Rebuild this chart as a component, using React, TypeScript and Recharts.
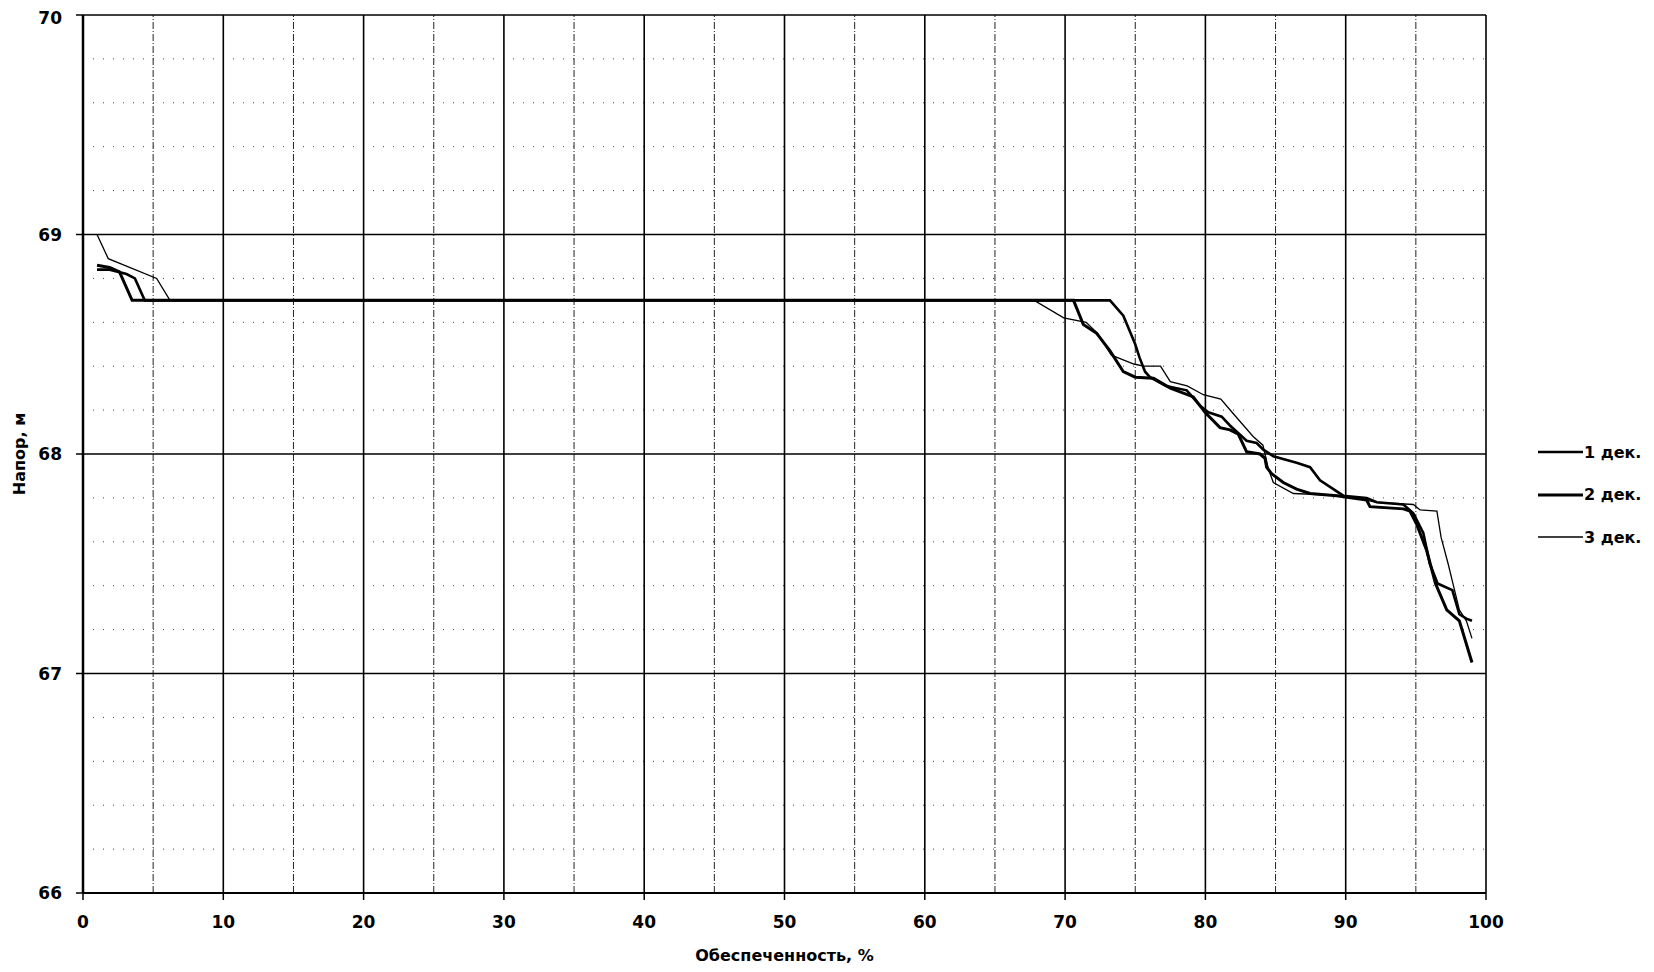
import React from 'react';
import { LineChart, Line, XAxis, YAxis, ReferenceLine, Legend, Label } from 'recharts';

const FONT = '"DejaVu Sans", Verdana, sans-serif';

const xTicks = [0, 10, 20, 30, 40, 50, 60, 70, 80, 90, 100];
const yTicks = [66, 67, 68, 69, 70];
const xMajorGrid = [10, 20, 30, 40, 50, 60, 70, 80, 90, 100];
const xMinorGrid = [5, 15, 25, 35, 45, 55, 65, 75, 85, 95];
const yMajorGrid = [67, 68, 69, 70];
const yMinorGrid = [
  66.2, 66.4, 66.6, 66.8, 67.2, 67.4, 67.6, 67.8,
  68.2, 68.4, 68.6, 68.8, 69.2, 69.4, 69.6, 69.8,
];

const seriesNames = ['1 дек.', '2 дек.', '3 дек.'];

const dek1X = [1, 1.9, 3.1, 3.7, 4.4, 73.2, 74.15, 75.0, 75.3, 75.7, 76.05, 77.2, 78.67, 79.62, 80.21, 81.16, 81.75, 82.94, 83.65, 84.13, 84.84, 86.5, 87.46, 88.17, 89.12, 89.83, 91.49, 92.21, 94.11, 94.82, 95.53, 96.0, 96.55, 96.9, 97.6, 98.1, 98.6, 99.0];
const dek1Y = [68.84, 68.84, 68.82, 68.80, 68.70, 68.70, 68.63, 68.50, 68.44, 68.375, 68.35, 68.31, 68.29, 68.22, 68.19, 68.17, 68.13, 68.06, 68.05, 68.02, 67.99, 67.96, 67.94, 67.88, 67.84, 67.81, 67.80, 67.78, 67.77, 67.73, 67.64, 67.50, 67.41, 67.40, 67.38, 67.27, 67.25, 67.24];

const dek2X = [1, 1.9, 2.6, 3.5, 70.6, 71.3, 72.25, 73.2, 73.8, 74.15, 75.0, 76.3, 77.5, 79.14, 79.97, 81.04, 81.75, 82.35, 82.94, 83.89, 84.25, 84.36, 84.72, 85.55, 86.5, 87.46, 89.36, 91.49, 91.73, 94.11, 94.58, 95.06, 95.77, 96.4, 97.2, 98.1, 99.0];
const dek2Y = [68.86, 68.85, 68.83, 68.70, 68.70, 68.59, 68.55, 68.47, 68.41, 68.375, 68.35, 68.345, 68.30, 68.26, 68.19, 68.12, 68.11, 68.09, 68.01, 68.00, 67.98, 67.94, 67.91, 67.87, 67.84, 67.82, 67.81, 67.79, 67.76, 67.75, 67.74, 67.68, 67.56, 67.41, 67.29, 67.24, 67.05];

const dek3X = [1, 1.8, 5.25, 6.2, 67.8, 69.9, 71.5, 72.3, 73.3, 74.9, 75.6, 76.8, 77.5, 78.7, 79.85, 81.1, 81.9, 83.4, 84.1, 84.5, 84.84, 86.27, 89.83, 92.21, 94.82, 95.3, 96.5, 96.8, 97.3, 98.1, 98.6, 99.0];
const dek3Y = [69.00, 68.89, 68.80, 68.70, 68.70, 68.62, 68.60, 68.55, 68.45, 68.41, 68.40, 68.40, 68.33, 68.31, 68.27, 68.25, 68.19, 68.08, 68.04, 67.93, 67.87, 67.82, 67.81, 67.78, 67.77, 67.745, 67.74, 67.62, 67.50, 67.29, 67.24, 67.16];

const toPoints = (xs: number[], ys: number[]) => xs.map((x, i) => ({ x, y: ys[i] }));

const series = [
  { name: seriesNames[0], data: toPoints(dek1X, dek1Y), width: 2.6 },
  { name: seriesNames[1], data: toPoints(dek2X, dek2Y), width: 3 },
  { name: seriesNames[2], data: toPoints(dek3X, dek3Y), width: 1.3 },
];

const widthByName: Record<string, number> = {};
series.forEach((s) => { widthByName[s.name] = s.width; });

const renderLegend = (props: any) => {
  const payload = props.payload || [];
  return (
    <div style={{ display: 'flex', flexDirection: 'column', fontFamily: FONT }}>
      {payload.map((entry: any) => (
        <div key={entry.value} style={{ display: 'flex', alignItems: 'center', height: 42.5 }}>
          <svg width={45} height={10} style={{ display: 'block' }}>
            <line x1={0} y1={5} x2={45} y2={5} stroke="#000" strokeWidth={widthByName[entry.value] || 2} />
          </svg>
          <span style={{ fontSize: 16, fontWeight: 'bold', color: '#000', marginLeft: 1 }}>{entry.value}</span>
        </div>
      ))}
    </div>
  );
};

const YTitle = (props: any) => {
  const vb = props.viewBox || { x: 0, y: 0, width: 0, height: 0 };
  const cx = vb.x + 17;
  const cy = vb.y + vb.height / 2;
  return (
    <text x={cx} y={cy} transform={`rotate(-90 ${cx} ${cy})`} textAnchor="middle"
      fontFamily={FONT} fontSize={16} fontWeight="bold" fill="#000">Напор, м</text>
  );
};

const XTitle = (props: any) => {
  const vb = props.viewBox || { x: 0, y: 0, width: 0, height: 0 };
  const cx = vb.x + vb.width / 2;
  const cy = vb.y + vb.height - 11;
  return (
    <text x={cx} y={cy} textAnchor="middle"
      fontFamily={FONT} fontSize={16} fontWeight="bold" fill="#000">Обеспеченность, %</text>
  );
};

const tickStyle = { fill: '#000', fontSize: 17, fontWeight: 'bold', fontFamily: FONT } as any;

export default function App() {
  return (
    <div style={{ width: 1640, height: 964, background: '#fff' }}>
      <LineChart width={1640} height={964} margin={{ top: 7, right: 162, bottom: 0, left: 0 }}>
        <XAxis
          type="number"
          dataKey="x"
          domain={[0, 100]}
          ticks={xTicks}
          allowDataOverflow
          height={79}
          tickSize={7}
          tickMargin={16}
          tick={tickStyle}
          axisLine={{ stroke: '#000', strokeWidth: 2 }}
          tickLine={{ stroke: '#000', strokeWidth: 1.5 }}
        >
          <Label content={<XTitle />} />
        </XAxis>
        <YAxis
          type="number"
          dataKey="y"
          domain={[66, 70]}
          ticks={yTicks}
          allowDataOverflow
          width={75}
          tickSize={7}
          tickMargin={14}
          tick={tickStyle}
          axisLine={{ stroke: '#000', strokeWidth: 2.5 }}
          tickLine={{ stroke: '#000', strokeWidth: 1.5 }}
        >
          <Label content={<YTitle />} />
        </YAxis>
        {yMinorGrid.map((v) => (
          <ReferenceLine key={'ym' + v} y={v} stroke="#444" strokeWidth={1} strokeDasharray="1 9" />
        ))}
        {xMinorGrid.map((v) => (
          <ReferenceLine key={'xm' + v} x={v} stroke="#222" strokeWidth={1} strokeDasharray="7 2 1 2" />
        ))}
        {yMajorGrid.map((v) => (
          <ReferenceLine key={'yM' + v} y={v} stroke="#000" strokeWidth={1.6} />
        ))}
        {xMajorGrid.map((v) => (
          <ReferenceLine key={'xM' + v} x={v} stroke="#000" strokeWidth={1.6} />
        ))}
        <Legend
          layout="horizontal"
          verticalAlign="middle"
          align="center"
          content={renderLegend}
          wrapperStyle={{ left: 1530, top: 423, width: 110 }}
        />
        {series.map((s) => (
          <Line
            key={s.name}
            name={s.name}
            data={s.data}
            dataKey="y"
            type="linear"
            stroke="#000"
            strokeWidth={s.width}
            dot={false}
            activeDot={false}
            isAnimationActive={false}
          />
        ))}
      </LineChart>
    </div>
  );
}
